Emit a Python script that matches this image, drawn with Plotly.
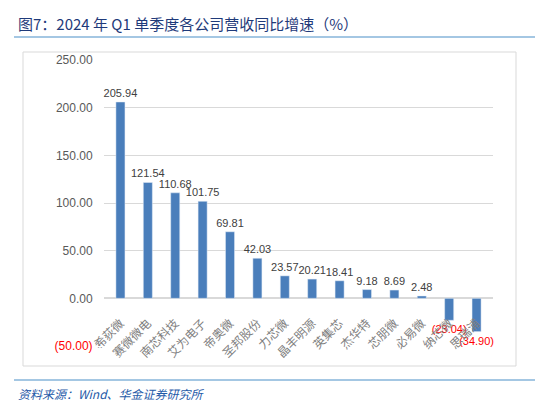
import plotly.graph_objects as go

companies = ['希荻微', '赛微微电', '南芯科技', '艾为电子', '帝奥微', '圣邦股份', '力芯微',
             '晶丰明源', '英集芯', '杰华特', '芯朋微', '必易微', '纳芯微', '思瑞浦']
growth = [205.94, 121.54, 110.68, 101.75, 69.81, 42.03, 23.57,
          20.21, 18.41, 9.18, 8.69, 2.48, -23.04, -34.90]
y_ticks = [-50, 0, 50, 100, 150, 200, 250]

W, H = 543, 401
L, R, T, B = 96, 485, 52, 338


def px(x):
    return (x - L) / (R - L)


def py(y):
    return (B - y) / (B - T)


def fmt(v):
    return f'({abs(v):.2f})' if v < 0 else f'{v:.2f}'


tick_text = [f"<span style='color:#FF0000'>{fmt(v)}</span>" if v < 0 else fmt(v) for v in y_ticks]

fig = go.Figure(go.Bar(
    x=companies, y=growth,
    marker_color='#4A7EBB', width=0.33,
    text=[fmt(v) for v in growth],
    textposition='outside', cliponaxis=False, constraintext='none',
    textfont=dict(size=11, color=['#FF0000' if v < 0 else '#404040' for v in growth],
                  family='Liberation Sans, Arial'),
))

CN = 'Noto Sans CJK SC'
fig.update_layout(
    width=W, height=H,
    margin=dict(l=L, r=W - R, t=T, b=H - B),
    paper_bgcolor='white', plot_bgcolor='white',
    showlegend=False,
    font=dict(family=CN, color='#595959'),
    xaxis=dict(tickangle=-45, tickfont=dict(size=12, color='#7F7F7F', family=CN),
               showline=False, ticks='', range=[-0.6, 13.6], automargin=False,
               anchor='free', position=py(305)),
    yaxis=dict(range=[-50, 250], tickvals=y_ticks, ticktext=tick_text, automargin=False,
               tickfont=dict(size=12, color='#595959', family='Liberation Sans, Arial'),
               gridcolor='#D9D9D9', zeroline=True, zerolinecolor='#D9D9D9', ticklen=8,
               ticks='outside', tickcolor='white'),
    shapes=[
        dict(type='rect', xref='paper', yref='paper', x0=px(15), x1=px(508), y0=py(358), y1=py(44),
             line=dict(color='#D9D9D9', width=1), layer='below'),
        dict(type='line', xref='paper', yref='paper', x0=px(6), x1=px(540), y0=py(29), y1=py(29),
             line=dict(color='#4A90C8', width=1.2)),
        dict(type='line', xref='paper', yref='paper', x0=px(6), x1=px(540), y0=py(372), y1=py(372),
             line=dict(color='#4A90C8', width=1.2)),
    ],
    annotations=[
        dict(text='图7：2024 年 Q1 单季度各公司营收同比增速（%）', xref='paper', yref='paper',
             x=px(8), y=py(15), xanchor='left', yanchor='middle', showarrow=False,
             font=dict(size=15, color='#1F3A7A', family=CN)),
        dict(text='<i>资料来源：Wind、华金证券研究所</i>', xref='paper', yref='paper',
             x=px(8), y=py(385), xanchor='left', yanchor='middle', showarrow=False,
             font=dict(size=12, color='#1F5AA8', family=CN)),
    ],
)

fig.write_html('out.html')
